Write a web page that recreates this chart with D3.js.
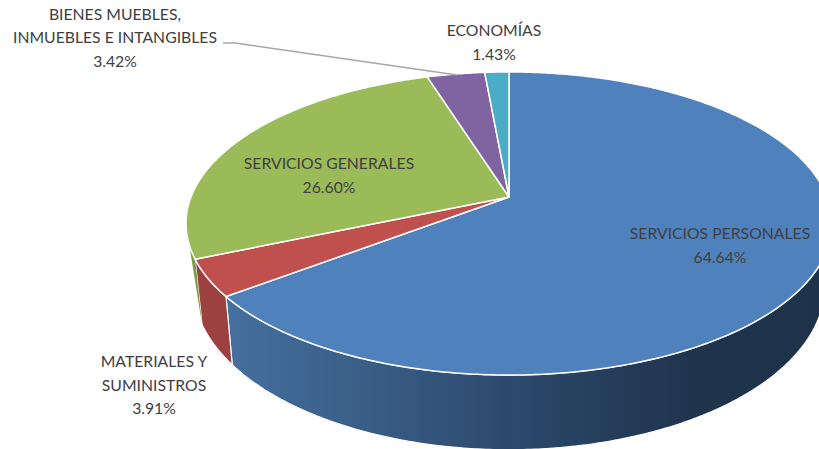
<!DOCTYPE html>
<html>
<head>
<meta charset="utf-8">
<script src="https://cdnjs.cloudflare.com/ajax/libs/d3/7.8.5/d3.min.js"></script>
<style>
  html, body { margin: 0; padding: 0; background: #fff; overflow: hidden; }
  text { font-family: Lato, "Open Sans", sans-serif; font-size: 15.75px; fill: #404040; text-anchor: middle; }
</style>
</head>
<body>
<div id="chart"></div>
<script>
// Data, clockwise from 12 o'clock
var categories = ["SERVICIOS PERSONALES", "MATERIALES Y SUMINISTROS", "SERVICIOS GENERALES", "BIENES MUEBLES, INMUEBLES E INTANGIBLES", "ECONOMÍAS"];
var values = [64.64, 3.91, 26.60, 3.42, 1.43];
var labelLines = [
  ["SERVICIOS PERSONALES"],
  ["MATERIALES Y", "SUMINISTROS"],
  ["SERVICIOS GENERALES"],
  ["BIENES MUEBLES,", "INMUEBLES E INTANGIBLES"],
  ["ECONOMÍAS"]
];

// Parameters
var width = 819;
var height = 449;
var topColors = ["#4f81bd", "#c0504d", "#9bbb59", "#8064a2", "#4bacc6"];
var wallColors = ["url(#blueWall)", "#9c413f", "#7c9a47", "#66507f", "#3c8a9e"];
var labelCenter = [[720, 239], [154, 367], [329, 169], [115, 19.5], [494, 36]];
var lineStep = 23.5;

// Perspective of the disc: k tilts it, top and bottom rims have their own centre and radii
var k = 0.175;
var topRim = { cx: 509, cy: 197, sx: 318, sy: 146.9 };
var lowRim = { cx: 509, cy: 257, sx: 311, sy: 159 };
// where the wall leaves the top rim on the left side
var silhouetteAngle = 252 * Math.PI / 180;

function project(rim, a) {
  var u = Math.sin(a), v = -Math.cos(a), w = 1 - k * v;
  return [rim.cx + rim.sx * u / w, rim.cy + rim.sy * v / w];
}
function arcPoints(rim, a0, a1) {
  var n = Math.max(2, Math.ceil(Math.abs(a1 - a0) / 0.01));
  return d3.range(n + 1).map(function (i) { return project(rim, a0 + (a1 - a0) * i / n); });
}

var svg = d3.select("#chart").append("svg")
  .attr("width", width)
  .attr("height", height)
  .style("display", "block");

var grad = svg.append("defs").append("linearGradient")
  .attr("id", "blueWall")
  .attr("gradientUnits", "userSpaceOnUse")
  .attr("x1", 225).attr("x2", 819).attr("y1", 0).attr("y2", 0);
[[0, "#44709f"], [0.3, "#36587f"], [0.55, "#294465"], [0.8, "#1f334c"], [1, "#1e324a"]].forEach(function (s) {
  grad.append("stop").attr("offset", s[0]).attr("stop-color", s[1]);
});

var pie = d3.pie().sort(null)(values);
var line = d3.line();

// Side walls first, the top faces cover whatever is hidden
svg.append("g").selectAll("path")
  .data(pie)
  .join("path")
  .attr("d", function (d) {
    // slices that start past the silhouette only show a sliver up to the tangent point
    if (d.endAngle > silhouetteAngle && d.startAngle < silhouetteAngle) {
      return line(arcPoints(topRim, d.startAngle, silhouetteAngle).concat([project(lowRim, d.startAngle)])) + "Z";
    }
    if (d.startAngle >= silhouetteAngle) return null;
    return line(arcPoints(topRim, d.startAngle, d.endAngle).concat(arcPoints(lowRim, d.endAngle, d.startAngle))) + "Z";
  })
  .attr("fill", function (d, i) { return wallColors[i]; })
  .attr("stroke", function (d) { return d.startAngle < silhouetteAngle && d.endAngle > silhouetteAngle ? "none" : "#fff"; })
  .attr("stroke-width", 1.2);

// Top faces
svg.append("g").selectAll("path")
  .data(pie)
  .join("path")
  .attr("d", function (d) {
    return line([[topRim.cx, topRim.cy]].concat(arcPoints(topRim, d.startAngle, d.endAngle))) + "Z";
  })
  .attr("fill", function (d, i) { return topColors[i]; })
  .attr("stroke", "#fff")
  .attr("stroke-width", 1.5)
  .attr("stroke-linejoin", "round");

// Leader line
svg.append("polyline")
  .attr("points", "223,43 235,43 457,75")
  .attr("fill", "none")
  .attr("stroke", "#a6a6a6")
  .attr("stroke-width", 1.5);

// Labels
var fmt = d3.format(".2f");
var labels = svg.append("g").selectAll("text")
  .data(categories)
  .join("text")
  .attr("transform", function (d, i) { return "translate(" + labelCenter[i] + ")"; });
labels.each(function (d, i) {
  var lines = labelLines[i].concat([fmt(values[i]) + "%"]);
  d3.select(this).selectAll("tspan")
    .data(lines)
    .join("tspan")
    .attr("x", 0)
    .attr("y", function (t, j) { return j * lineStep; })
    .text(function (t) { return t; });
});
</script>
</body>
</html>
